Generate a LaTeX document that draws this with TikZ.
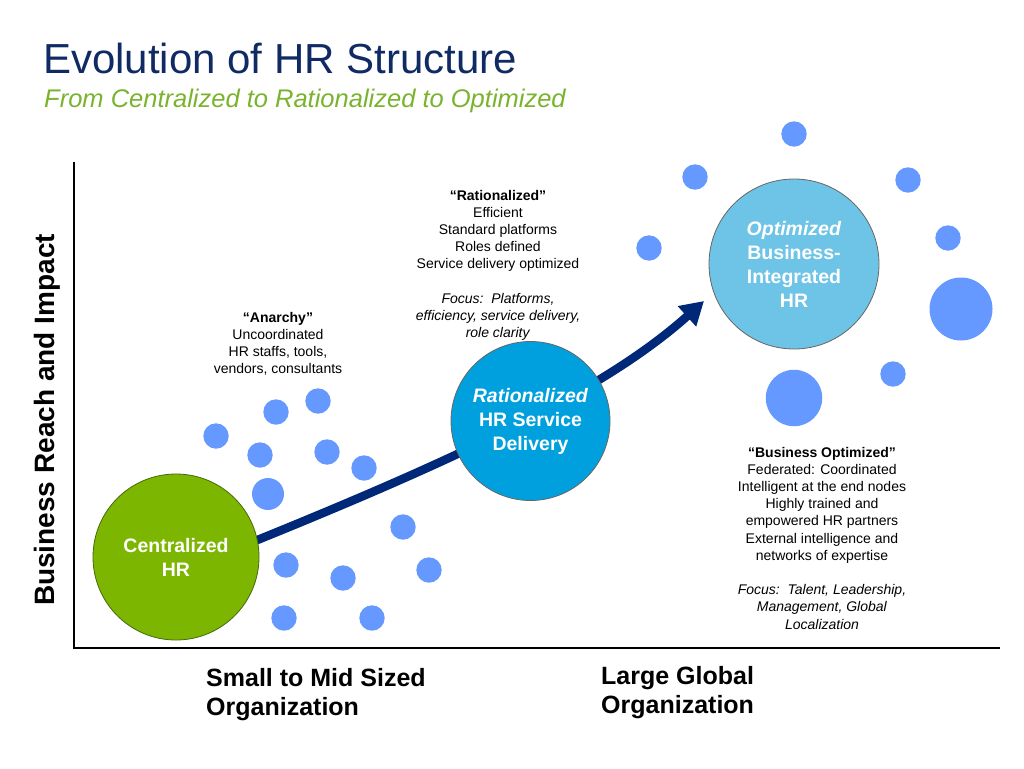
\documentclass[tikz,border=0pt]{standalone}
\usepackage{fontspec}
\setmainfont{Liberation Sans}
\usetikzlibrary{arrows.meta}
\definecolor{titleblue}{RGB}{16,42,100}
\definecolor{subgreen}{RGB}{122,180,46}
\definecolor{cengreen}{RGB}{124,182,0}
\definecolor{cenedge}{RGB}{70,105,10}
\definecolor{ratblue}{RGB}{0,160,222}
\definecolor{optblue}{RGB}{110,196,230}
\definecolor{dotblue}{RGB}{102,153,255}
\definecolor{arrowblue}{RGB}{0,40,120}
\newcommand{\setfs}[2]{\fontsize{#1}{#2}\selectfont}
\begin{document}
\begin{tikzpicture}[x=1pt,y=-1pt,
  bigcircle/.style={circle,inner sep=0pt,align=center,text=white,font=\setfs{19.5}{24}\bfseries,line width=0.8pt},
  dot/.style={circle,fill=dotblue,inner sep=0pt},
  note/.style={align=center,inner sep=0pt,anchor=north,font=\setfs{14}{17.2}},
  axislabel/.style={align=left,inner sep=0pt,anchor=north west,font=\setfs{25}{29.5}\bfseries}
]
\useasboundingbox (0,0) rectangle (1024,768);
\fill[white] (0,0) rectangle (1024,768);

% title
\node[anchor=base west,inner sep=0pt,font=\setfs{42}{50},text=titleblue] (title) at (43,74) {Evolution of HR Structure};
\node[anchor=base west,inner sep=0pt,font=\setfs{25.5}{30}\itshape,text=subgreen] (subtitle) at (44,107) {From Centralized to Rationalized to Optimized};

% axes
\coordinate (origin) at (74,648);
\coordinate (ytop) at (74,162);
\coordinate (xend) at (1000,648);
\draw[line width=1.2pt] (ytop) -- (origin) -- (xend);
\node[rotate=90,inner sep=0pt,font=\setfs{28}{32}\bfseries] (ylabel) at (47,420) {Business Reach and Impact};

% arrow
\coordinate (arrstart) at (250,543);
\coordinate (arrtip) at (704,301);
\draw[line width=8.5pt,arrowblue,-{Triangle[length=23pt,width=26pt]}] (arrstart) .. controls (450,462) and (603,392) .. (arrtip);

% big circles
\node[bigcircle,fill=cengreen,draw=cenedge,minimum size=166pt] (cen) at (176,557) {Centralized\\HR};
\node[bigcircle,fill=ratblue,draw=black!60,minimum size=159pt] (rat) at (530.5,421) {\textit{Rationalized}\\HR Service\\Delivery};
\node[bigcircle,fill=optblue,draw=black!60,minimum size=170pt] (opt) at (794,264) {\textit{Optimized}\\Business-\\Integrated\\HR};

% dots
\foreach \n/\x/\y/\d in {1/216/436/25.4, 2/276/412/25.4, 3/318/401/25.4, 4/260/455/25.4,
  5/327/452/25.4, 6/364/468/25.4, 7/268/494/32, 8/403/527/25.4, 9/286/565/25.4,
  10/343/578/25.4, 11/429/570/25.4, 12/284/618/25.4, 13/372/618/25.4,
  14/794/134/25.4, 15/695/177/25.4, 16/908/180/25.4, 17/649/248/25.4, 18/948/238/25.4,
  19/961/309/63, 20/893/374/25.4, 21/794/398/56.5}
  \node[dot,minimum size=\d pt] (d\n) at (\x,\y) {};

% notes
\node[note] (anarchy) at (278,311.8) {\textbf{“Anarchy”}\\Uncoordinated\\HR staffs, tools,\\vendors, consultants};
\node[note] (ratnote) at (498,189.8) {\textbf{“Rationalized”}\\Efficient\\Standard platforms\\Roles defined\\Service delivery optimized\\[17.2pt]\textit{Focus:\ \ Platforms,}\\\textit{efficiency, service delivery,}\\\textit{role clarity}};
\node[note] (bizopt) at (822,446.8) {\textbf{“Business Optimized”}\\Federated: Coordinated\\Intelligent at the end nodes\\Highly trained and\\empowered HR partners\\External intelligence and\\networks of expertise\\[17.2pt]\textit{Focus:\ \ Talent, Leadership,}\\\textit{Management, Global}\\\textit{Localization}};

% x-axis labels
\node[axislabel] (small) at (206,668) {Small to Mid Sized\\Organization};
\node[axislabel] (large) at (601,666) {Large Global\\Organization};
\end{tikzpicture}
\end{document}
